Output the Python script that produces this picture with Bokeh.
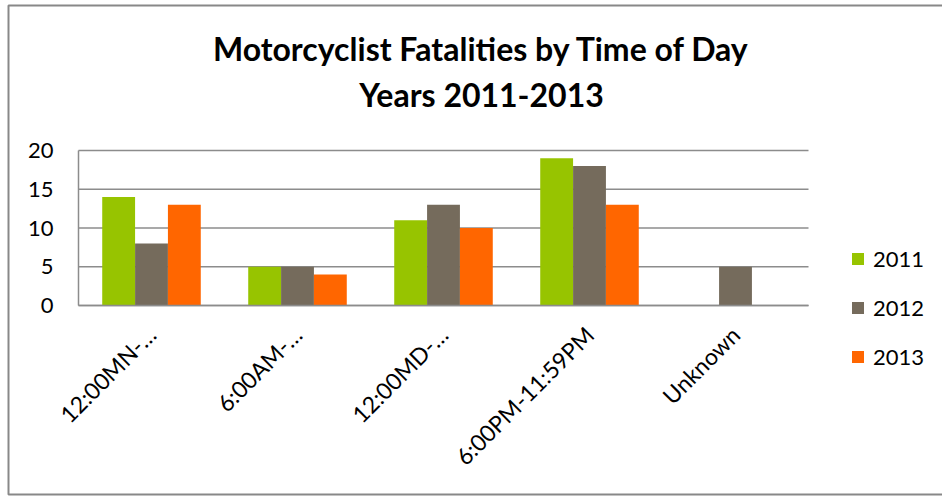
import math
from bokeh.plotting import figure
from bokeh.models import (ColumnDataSource, Range1d, FixedTicker, Legend, LegendItem,
                          Label, BoxAnnotation)
from bokeh.transform import dodge
from bokeh.embed import file_html
from bokeh.resources import INLINE

# Fatalities per time-of-day bucket, one list per year
periods = ["12:00MN-…", "6:00AM-…", "12:00MD-…", "6:00PM-11:59PM", "Unknown"]
years = ["2011", "2012", "2013"]
y2011 = [14, 5, 11, 19, 0]
y2012 = [8, 5, 13, 18, 5]
y2013 = [13, 4, 10, 13, 0]
y_ticks = [0, 5, 10, 15, 20]

colors = ["#97C400", "#756B5C", "#FF6600"]
FONT = "Lato"
GRID = "#8c8c8c"

W, H = 942, 496
# plot area in canvas pixels
PL, PR, PT, PB = 78, 808, 150, 305
n = len(periods)
y_max = y_ticks[-1]

# the frame covers the whole canvas; ranges are set so that the plot area
# [0, n] x [0, y_max] lands on the box PL..PR, PT..PB
px_x = (PR - PL) / n
px_y = (PB - PT) / y_max
x_range = Range1d(-PL / px_x, n + (W - PR) / px_x)
y_range = Range1d(-(H - PB) / px_y, y_max + PT / px_y)

centers = [i + 0.5 for i in range(n)]
source = ColumnDataSource(dict(x=centers, y2011=y2011, y2012=y2012, y2013=y2013))

p = figure(width=W, height=H, x_range=x_range, y_range=y_range, title=None,
           output_backend="svg", toolbar_location=None,
           min_border=0, min_border_left=0, min_border_right=0,
           min_border_top=0, min_border_bottom=0)
p.outline_line_color = None
p.background_fill_color = "white"
p.border_fill_color = "white"
p.grid.visible = False

# horizontal gridlines across the plot area only
p.segment(x0=0, x1=n, y0=y_ticks, y1=y_ticks, line_color=GRID, line_width=1.5)

offsets = [-0.225, 0.0, 0.225]
cols = ["y2011", "y2012", "y2013"]
renderers = []
for col, off, c in zip(cols, offsets, colors):
    r = p.vbar(x=dodge("x", off), top=col, width=0.225,
               source=source, fill_color=c, line_color=None)
    renderers.append(r)

# axes pinned to the plot-area edges
p.xaxis.fixed_location = 0
p.yaxis.fixed_location = 0
p.xaxis.bounds = (0, n)
p.yaxis.bounds = (0, y_max)
p.xaxis.ticker = FixedTicker(ticks=centers)
p.xaxis.major_label_overrides = {c: lab for c, lab in zip(centers, periods)}
p.yaxis.ticker = FixedTicker(ticks=y_ticks)

for ax in (p.xaxis, p.yaxis):
    ax.axis_line_color = GRID
    ax.axis_line_width = 1.5
    ax.major_tick_line_color = None
    ax.minor_tick_line_color = None
    ax.major_tick_in = 0
    ax.major_tick_out = 0
    ax.major_label_text_font = FONT
    ax.major_label_text_color = "black"

p.yaxis.major_label_text_font_size = "22px"
p.yaxis.major_label_standoff = 25
p.xaxis.major_label_text_font_size = "23px"
p.xaxis.major_label_orientation = math.pi / 4
p.xaxis.major_label_standoff = 25

# legend to the right of the plot area
legend = Legend(items=[LegendItem(label=y, renderers=[r]) for y, r in zip(years, renderers)],
                location=(850, H - 370), orientation="vertical")
legend.label_text_font = FONT
legend.label_text_font_size = "22px"
legend.label_text_color = "black"
legend.glyph_width = 15
legend.glyph_height = 15
legend.label_height = 26
legend.label_standoff = 8
legend.spacing = 22
legend.padding = 0
legend.margin = 0
legend.border_line_color = None
legend.background_fill_alpha = 0
p.add_layout(legend, "center")

# two-line title
for text, base in [("Motorcyclist Fatalities by Time of Day", 48),
                   ("Years 2011-2013", 94)]:
    p.add_layout(Label(x=481, y=H - base, x_units="screen", y_units="screen", text=text,
                       text_font=FONT, text_font_style="bold", text_font_size="32px",
                       text_align="center", text_baseline="alphabetic", text_color="black"))

# chart border (its right edge runs past the canvas)
p.add_layout(BoxAnnotation(left=8, right=W + 20, top=5, bottom=494,
                           left_units="canvas", right_units="canvas",
                           top_units="canvas", bottom_units="canvas",
                           fill_alpha=0, line_color="#888888", line_alpha=1.0,
                           line_width=2))

open("out.html", "w").write(file_html(p, INLINE))
